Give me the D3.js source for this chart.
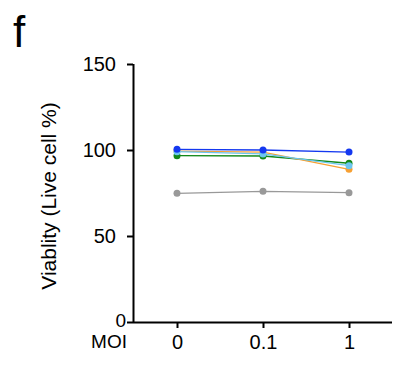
<!DOCTYPE html>
<html>
<head>
<meta charset="utf-8">
<script src="https://cdn.jsdelivr.net/npm/d3@7"></script>
<style>
  body { margin: 0; background: #fff; }
  svg { display: block; font-family: "Liberation Sans", Arial, sans-serif; }
</style>
</head>
<body>
<svg></svg>
<script>
const width = 401;
const height = 370;

// MOI groups along the x axis
const moi = ['0', '0.1', '1'];
const yTicks = [0, 50, 100, 150];

// viability per line, one value per MOI
const grayVals = [74.8, 76.0, 75.2];
const greenVals = [96.7, 96.5, 92.3];
const orangeVals = [99.4, 98.8, 88.8];
const lightBlueVals = [99.0, 97.7, 90.9];
const blueVals = [100.4, 100.0, 98.8];

const series = [
  { color: '#999999', values: grayVals },
  { color: '#12881a', values: greenVals },
  { color: '#f7a032', values: orangeVals },
  { color: '#6cc6ef', values: lightBlueVals },
  { color: '#1438f0', values: blueVals }
];

const plotLeft = 133, plotRight = 392, plotTop = 64, plotBottom = 322;

const svg = d3.select('svg')
  .attr('width', width)
  .attr('height', height);

const x = d3.scalePoint()
  .domain(moi)
  .range([177, 349]);

const y = d3.scaleLinear()
  .domain([0, 150])
  .range([plotBottom, plotTop]);

// ===== axes =====
const yAxis = svg.append('g')
  .attr('transform', `translate(${plotLeft},0)`)
  .call(d3.axisLeft(y).tickValues(yTicks).tickSize(6).tickPadding(11));

const xAxis = svg.append('g')
  .attr('transform', `translate(0,${plotBottom})`)
  .call(d3.axisBottom(x).tickSize(6).tickPadding(6));

xAxis.select('.domain')
  .attr('d', `M${plotLeft},0.5H${plotRight}`);

[yAxis, xAxis].forEach(g => {
  g.selectAll('.domain, .tick line')
    .attr('stroke', '#000')
    .attr('stroke-width', 2);
  g.selectAll('.tick text')
    .attr('fill', '#000')
    .style('font-size', '20px');
});

yAxis.select('.domain').attr('d', `M0.5,${plotTop}V${plotBottom + 1}`);

// the zero label sits tucked in against the axis corner
yAxis.selectAll('.tick')
  .filter(d => d === 0)
  .select('text')
  .attr('x', -7)
  .attr('y', -2)
  .style('font-size', '19px');

xAxis.selectAll('.tick text').attr('dy', '0.75em');

svg.append('text')
  .attr('x', 127)
  .attr('y', 348)
  .attr('text-anchor', 'end')
  .style('font-size', '19px')
  .text('MOI');

svg.append('text')
  .attr('transform', `translate(56,${196}) rotate(-90)`)
  .attr('text-anchor', 'middle')
  .style('font-size', '21px')
  .text('Viablity (Live cell %)');

svg.append('text')
  .attr('x', 13)
  .attr('y', 47)
  .style('font-size', '44px')
  .text('f');

// ===== lines and points =====
const line = d3.line()
  .x((d, i) => x(moi[i]))
  .y(d => y(d));

const groups = svg.selectAll('g.series')
  .data(series)
  .enter()
  .append('g')
  .attr('class', 'series');

groups.append('path')
  .attr('d', d => line(d.values))
  .attr('fill', 'none')
  .attr('stroke', d => d.color)
  .attr('stroke-width', 1.3);

groups.selectAll('circle')
  .data(d => d.values.map((v, i) => ({ v, i, color: d.color })))
  .enter()
  .append('circle')
  .attr('cx', d => x(moi[d.i]))
  .attr('cy', d => y(d.v))
  .attr('r', 3.5)
  .attr('fill', d => d.color);
</script>
</body>
</html>
